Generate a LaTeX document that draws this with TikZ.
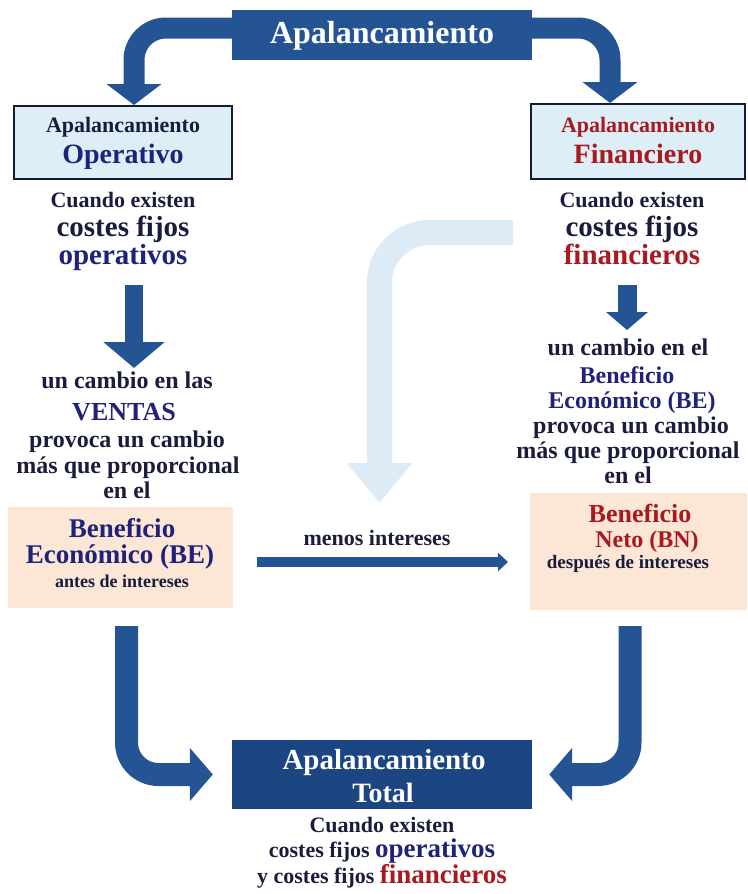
\documentclass[tikz,border=0pt]{standalone}
\usepackage{fontspec}
\setmainfont{Liberation Serif}
\usetikzlibrary{arrows.meta}
\definecolor{boxblue}{RGB}{36,84,148}
\definecolor{totblue}{RGB}{28,70,130}
\definecolor{lightbox}{RGB}{221,238,246}
\definecolor{peach}{RGB}{252,230,214}
\definecolor{paleblue}{RGB}{220,235,245}
\definecolor{txtdark}{RGB}{26,28,62}
\definecolor{txtblue}{RGB}{32,34,122}
\definecolor{txtred}{RGB}{168,26,32}
\definecolor{framecol}{RGB}{22,28,48}
\newcommand{\fsz}[1]{\fontsize{#1}{#1}\selectfont\bfseries}
\tikzstyle{bigbox} = [fill=boxblue, minimum width=300pt, minimum height=50pt, inner sep=0pt]
\tikzstyle{levbox} = [fill=lightbox, draw=framecol, line width=2pt, inner sep=0pt]
\tikzstyle{resbox} = [fill=peach, inner sep=0pt]
\tikzstyle{txt} = [anchor=base, inner sep=0pt, text=txtdark]
\tikzstyle{bigarrow} = [draw=boxblue, line width=21pt, rounded corners=32pt, -{Triangle[width=54pt,length=21pt]}]

\begin{document}
\begin{tikzpicture}[x=1pt,y=-1pt]
\useasboundingbox (0,0) rectangle (747,894);

% boxes
\node[bigbox] (top) at (382,35) {};
\node[txt, text=white, font=\fsz{32}] (topT) at (382,43) {Apalancamiento};
\node[levbox, minimum width=218pt, minimum height=73pt] (opb) at (123,142.5) {};
\node[levbox, minimum width=214pt, minimum height=75pt] (fin) at (638,141.5) {};
\node[resbox, minimum width=225pt, minimum height=101pt] (beL) at (120.5,557.5) {};
\node[resbox, minimum width=217pt, minimum height=117pt] (bnR) at (638.5,551.5) {};
\node[bigbox, fill=totblue, minimum height=69pt] (tot) at (382,774.5) {};

% left column
\node[txt, font=\fsz{22}] (opA) at (123,132) {Apalancamiento};
\node[txt, text=txtblue, font=\fsz{28}] (opB) at (123,163) {Operativo};
\node[txt, font=\fsz{22}] (opC) at (123,207) {Cuando existen};
\node[txt, font=\fsz{29}] (opD) at (123,236) {costes fijos};
\node[txt, text=txtblue, font=\fsz{29}] (opE) at (123,264) {operativos};
\node[txt, font=\fsz{24}] (veA) at (127,388) {un cambio en las};
\node[txt, text=txtblue, font=\fsz{26}] (veB) at (124,420) {VENTAS};
\node[txt, font=\fsz{24}] (veC) at (127,447) {provoca un cambio};
\node[txt, font=\fsz{24}] (veD) at (128,473) {más que proporcional};
\node[txt, font=\fsz{24}] (veE) at (127,498) {en el};
\node[txt, text=txtblue, font=\fsz{27}] (beA) at (122,537) {Beneficio};
\node[txt, text=txtblue, font=\fsz{27}] (beB) at (120,563) {Económico (BE)};
\node[txt, font=\fsz{18}] (beC) at (122,587) {antes de intereses};

% right column
\node[txt, text=txtred, font=\fsz{22}] (finA) at (638,132) {Apalancamiento};
\node[txt, text=txtred, font=\fsz{28}] (finB) at (638,163) {Financiero};
\node[txt, font=\fsz{22}] (finC) at (632,207) {Cuando existen};
\node[txt, font=\fsz{29}] (finD) at (632,236) {costes fijos};
\node[txt, text=txtred, font=\fsz{29}] (finE) at (632,264) {financieros};
\node[txt, font=\fsz{24}] (bcA) at (628,355) {un cambio en el};
\node[txt, text=txtblue, font=\fsz{24}] (bcB) at (627,383) {Beneficio};
\node[txt, text=txtblue, font=\fsz{24}] (bcC) at (632,408) {Económico (BE)};
\node[txt, font=\fsz{24}] (bcD) at (631,433) {provoca un cambio};
\node[txt, font=\fsz{24}] (bcE) at (628,458) {más que proporcional};
\node[txt, font=\fsz{24}] (bcF) at (628,483) {en el};
\node[txt, text=txtred, font=\fsz{26}] (bnA) at (640,522) {Beneficio};
\node[txt, text=txtred, font=\fsz{24}] (bnB) at (647,547) {Neto (BN)};
\node[txt, font=\fsz{19}] (bnC) at (628,568) {después de intereses};

\node[txt, font=\fsz{22}] (mint) at (377,545) {menos intereses};

% bottom
\node[txt, text=white, font=\fsz{29}] (totA) at (384,769) {Apalancamiento};
\node[txt, text=white, font=\fsz{28}] (totB) at (383,802) {Total};
\node[txt, font=\fsz{22}] (totC) at (382,832) {Cuando existen};
\node[txt, font=\fsz{22}] (totD) at (382,857) {costes fijos {\color{txtblue}\fsz{27}operativos}};
\node[txt, font=\fsz{22}] (totE) at (382,883) {y costes fijos {\color{txtred}\fsz{27}financieros}};

% arrows
\coordinate (dA1) at (134,285);
\coordinate (dA2) at (134,368);
\coordinate (dB1) at (627,285);
\coordinate (dB2) at (627,330);
\coordinate (lt1) at (513,232.5);
\coordinate (lt2) at (379.5,503);
\coordinate (mi1) at (257,562);
\coordinate (mi2) at (508,562);

\draw[bigarrow] ([yshift=7pt]top.west) -| ([xshift=11pt]opb.north);
\draw[bigarrow] ([yshift=7pt]top.east) -| ([xshift=-28pt]fin.north);
\draw[bigarrow, line width=18pt, -{Triangle[width=60pt,length=26pt]}] (dA1) -- (dA2);
\draw[bigarrow, line width=19pt, -{Triangle[width=41pt,length=18pt]}] (dB1) -- (dB2);
\draw[bigarrow, draw=paleblue, line width=25pt, rounded corners=50pt, -{Triangle[width=63pt,length=40pt]}] (lt1) -| (lt2);
\draw[bigarrow, line width=10pt, -{Triangle[width=18pt,length=10pt]}] (mi1) -- (mi2);
\draw[bigarrow, line width=23pt, rounded corners=32pt, -{Triangle[width=52pt,length=23pt]}] ([xshift=6pt,yshift=-18pt]beL.south) |- ([xshift=-19pt]tot.west);
\draw[bigarrow, line width=23pt, rounded corners=32pt, -{Triangle[width=52pt,length=23pt]}] ([xshift=-8.5pt,yshift=-16pt]bnR.south) |- ([xshift=17pt]tot.east);
\end{tikzpicture}
\end{document}
